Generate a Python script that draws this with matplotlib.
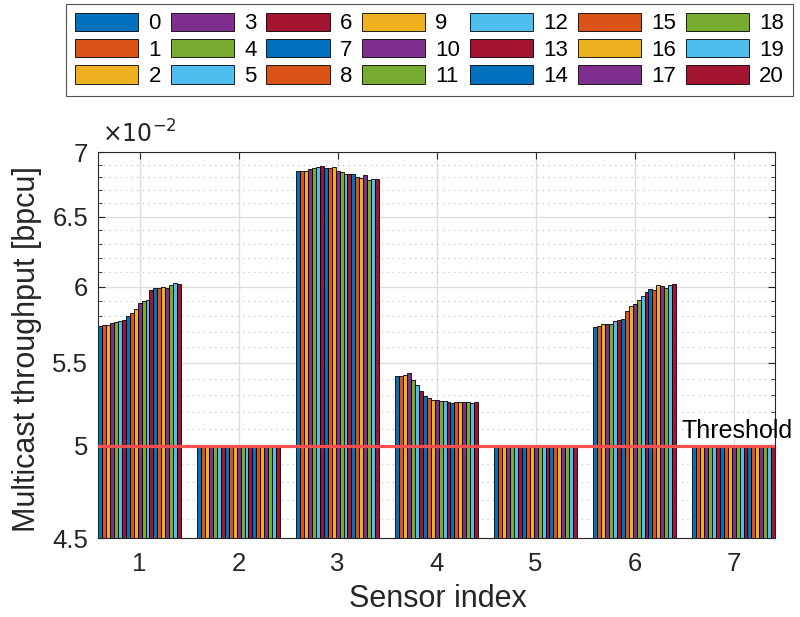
import numpy as np
import matplotlib.pyplot as plt
from matplotlib.ticker import FixedLocator, NullFormatter

plt.rcParams['font.family'] = ['Liberation Sans', 'DejaVu Sans']

# throughput per sensor, one list per sensor, 21 configurations each (x 1e-2 bpcu)
sensors = [1, 2, 3, 4, 5, 6, 7]
labels = [str(i) for i in range(21)]
s1 = [5.735, 5.740, 5.740, 5.753, 5.763, 5.770, 5.773, 5.800, 5.819, 5.846, 5.887,
      5.900, 5.911, 5.975, 5.989, 5.989, 5.996, 5.989, 6.010, 6.028, 6.021]
s2 = [5.0] * 21
s3 = [6.851, 6.851, 6.847, 6.865, 6.870, 6.883, 6.886, 6.875, 6.870, 6.878, 6.851,
      6.843, 6.830, 6.825, 6.825, 6.804, 6.792, 6.815, 6.776, 6.784, 6.789]
s4 = [5.419, 5.419, 5.425, 5.434, 5.394, 5.363, 5.327, 5.296, 5.280, 5.270, 5.270,
      5.264, 5.264, 5.256, 5.254, 5.256, 5.256, 5.256, 5.258, 5.252, 5.256]
s5 = [5.0] * 21
s6 = [5.729, 5.735, 5.747, 5.747, 5.747, 5.766, 5.773, 5.780, 5.833, 5.867, 5.884,
      5.907, 5.936, 5.966, 5.982, 5.975, 6.010, 6.005, 5.993, 6.014, 6.017]
s7 = [5.0] * 21
threshold = 5.0

colors = ['#0072BD', '#D95319', '#EDB120', '#7E2F8E', '#77AC30', '#4DBEEE', '#A2142F']

data = np.array([s1, s2, s3, s4, s5, s6, s7])
n = data.shape[1]
w = 0.8 / (n - 1)
offsets = np.linspace(-0.4, 0.4, n)

fig = plt.figure(figsize=(8, 6.17), dpi=100)
ax = fig.add_axes([0.1225, 0.128, 0.8465, 0.6256])

x = np.array(sensors)
handles = []
for j in range(n):
    h = ax.bar(x + offsets[j], data[:, j], width=w, color=colors[j % 7],
               edgecolor='black', linewidth=0.6, zorder=2, label=labels[j])
    handles.append(h)

ax.axhline(threshold, color='#FF5050', linewidth=2.3, zorder=3)
ax.annotate('Threshold', xy=(6.47, threshold), xytext=(0, 5.5),
            textcoords='offset points', fontsize=18, ha='left',
            va='baseline', annotation_clip=False)

ax.set_yscale('log')
ax.set_ylim(4.5, 7)
ax.set_xlim(0.58, 7.42)
ax.set_xticks(sensors)
ax.yaxis.set_major_locator(FixedLocator([4.5, 5, 5.5, 6, 6.5, 7]))
ax.yaxis.set_major_formatter(plt.FixedFormatter(['4.5', '5', '5.5', '6', '6.5', '7']))
ax.yaxis.set_minor_locator(FixedLocator(np.round(np.arange(4.6, 7.0, 0.1), 1)))
ax.yaxis.set_minor_formatter(NullFormatter())

ax.grid(True, which='major', color='#DDDDDD', linewidth=1.0, zorder=0)
ax.grid(True, which='minor', axis='y', color='#BBBBBB', linestyle=(0, (1, 4)),
        linewidth=0.8, zorder=0)
ax.set_axisbelow(True)

ax.tick_params(which='both', direction='in', top=True, right=True,
               labelsize=18.5, colors='#262626')
ax.tick_params(which='major', length=5)
ax.tick_params(which='minor', length=3)
ax.tick_params(axis='x', which='major', pad=10)
ax.tick_params(axis='y', which='major', pad=7)
for sp in ax.spines.values():
    sp.set_color('#262626')
    sp.set_linewidth(0.8)

ax.set_xlabel('Sensor index', fontsize=22, color='#262626')
ax.set_ylabel('Multicast throughput [bpcu]', fontsize=22, color='#262626')
ax.xaxis.set_label_coords(0.502, -0.118)
ax.yaxis.set_label_coords(-0.083, 0.49)
ax.text(0.006, 1.012, r'$\times 10^{-2}$', transform=ax.transAxes, fontsize=17,
        ha='left', va='bottom', color='#262626')

leg = fig.legend(handles=handles, ncol=7, loc='upper center',
                 bbox_to_anchor=(0.537, 0.994), fontsize=16, frameon=True,
                 fancybox=False, edgecolor='#262626', handlelength=2.84,
                 handleheight=0.9, handletextpad=0.45, columnspacing=0.45,
                 labelspacing=0.2, borderpad=0.4, borderaxespad=0)
leg.get_frame().set_linewidth(0.8)

fig.savefig('out.png', dpi=100)
